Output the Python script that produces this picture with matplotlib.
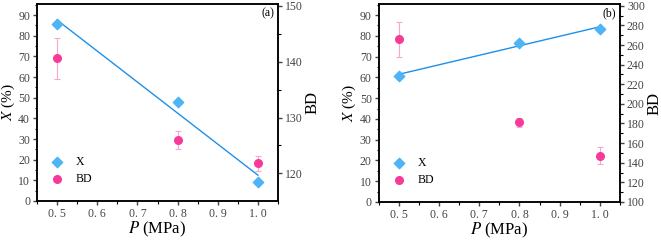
import matplotlib.pyplot as plt
import numpy as np
from matplotlib.ticker import MultipleLocator, FuncFormatter

plt.rcParams['font.family'] = ['Liberation Serif', 'DejaVu Serif']
plt.rcParams['mathtext.fontset'] = 'stix'

# pressure values
P = [0.5, 0.8, 1.0]

# panel (a)
Xa = [85.5, 47.7, 9.4]
BDa = [140.6, 126.0, 121.8]
BDa_err = [3.7, 1.6, 1.3]

# panel (b)
Xb = [60.9, 76.7, 83.5]
BDb = [265.8, 181.0, 147.2]
BDb_err = [18.0, 4.6, 9.0]

blue = '#4db5f5'
line_blue = '#1e90e8'
pink = '#f7399a'
err_pink = '#f9a6cf'

fmt = FuncFormatter(lambda v, p: f"{v:.1f}".replace('.', '. '))


def panel(ax, X, BD, err, bd_lim, bd_major, bd_minor, tag, ylab_x):
    ax.set_xlim(0.45, 1.05)
    ax.set_ylim(0, 95.3)
    fit = np.polyfit(P, X, 1)
    xs = np.array([P[0], P[-1]])
    ax.plot(xs, np.polyval(fit, xs), color=line_blue, lw=1.0)
    ax.scatter(P, X, marker='D', s=28, color=blue, zorder=3, label='X')
    ax.xaxis.set_major_locator(MultipleLocator(0.1))
    ax.xaxis.set_minor_locator(MultipleLocator(0.05))
    ax.xaxis.set_major_formatter(fmt)
    ax.yaxis.set_major_locator(MultipleLocator(10))
    ax.yaxis.set_minor_locator(MultipleLocator(5))
    ax.set_xlabel('$P$ (MPa)', fontsize=12, labelpad=0)
    ax.set_ylabel('$X$ (%)', fontsize=11)
    ax.yaxis.set_label_coords(ylab_x, 0.5)
    ax.tick_params(labelsize=8.5, colors='#444444', width=1.0, length=3, pad=2)
    ax.tick_params(which='minor', length=1.8, width=0.8)
    for s in ax.spines.values():
        s.set_linewidth(1.1)

    ax2 = ax.twinx()
    ax2.errorbar(P, BD, yerr=err, fmt='none', ecolor=err_pink, elinewidth=0.8,
                 capsize=2, capthick=0.8)
    ax2.scatter(P, BD, marker='o', s=30, color=pink, zorder=3, label='BD')
    ax2.set_ylim(*bd_lim)
    ax2.yaxis.set_major_locator(MultipleLocator(bd_major))
    ax2.yaxis.set_minor_locator(MultipleLocator(bd_minor))
    ax2.set_ylabel('BD', fontsize=12, labelpad=1)
    ax2.tick_params(labelsize=8.5, colors='#444444', width=1.0, length=3, pad=2)
    ax2.tick_params(which='minor', length=1.8, width=0.8)
    for s in ax2.spines.values():
        s.set_linewidth(1.1)

    h1, l1 = ax.get_legend_handles_labels()
    h2, l2 = ax2.get_legend_handles_labels()
    ax2.legend(h1 + h2, l1 + l2, loc='lower left', frameon=False, fontsize=8.5,
               handletextpad=0.6, borderaxespad=0.3, labelspacing=0.4,
               bbox_to_anchor=(0.0, 0.04))
    ax.text(0.985, 0.985, tag, transform=ax.transAxes, ha='right', va='top',
            fontsize=8.5)


fig = plt.figure(figsize=(6.61, 2.41), dpi=100)
axa = fig.add_axes([0.056, 0.166, 0.3646, 0.817])
axb = fig.add_axes([0.573, 0.162, 0.365, 0.821])

panel(axa, Xa, BDa, BDa_err, (115.06, 150.3), 10, 5, '(a)', -0.082)
panel(axb, Xb, BDb, BDb_err, (100, 301.7), 20, 10, '(b)', -0.085)

fig.savefig('out.png', dpi=100)
